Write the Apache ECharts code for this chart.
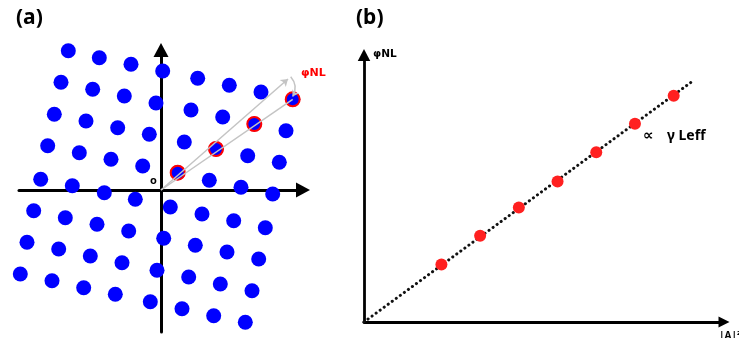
<!DOCTYPE html>
<html>
<head>
<meta charset="utf-8">
<script src="https://cdn.jsdelivr.net/npm/echarts@6/dist/echarts.min.js"></script>
<style>html,body{margin:0;padding:0;background:#fff;}#c{width:739px;height:338px;}</style>
</head>
<body>
<div id="c"></div>
<script>
// ---- Panel (a): lattice points (offsets from the axis crossing)
var latticeX = [
  -92.7,-61.7,-30,1.7,36.7,68.3,100,131.7,
  -100,-68.3,-36.7,-5,30,61.7,93.3,125,
  -106.7,-75,-43.3,-11.7,23.3,55,86.7,118.3,
  -113.3,-81.7,-50,-18.3,16.7,48.3,80,111.7,
  -120.3,-88.7,-56.7,-25.7,9.3,41,72.7,104.3,
  -127.3,-95.7,-64,-32.3,2.7,34.3,66,97.7,
  -134,-102.3,-70.7,-39,-4,27.7,59.3,91,
  -140.7,-109,-77.3,-45.7,-10.7,21,52.7,84.3
];
var latticeY = [
  139.3,132.3,125.7,119,111.7,104.7,98,90.7,
  107.7,100.7,94,87,80,73,66,59.3,
  75.7,69,62.3,55.7,48,41,34.3,27.7,
  44.3,37.3,30.7,24,17.3,9.7,2.7,-4,
  10.7,4.3,-2.7,-9.3,-17,-24,-30.7,-37.7,
  -20.7,-27.7,-34.3,-41,-48.3,-55.3,-62,-69,
  -52.3,-59,-66,-72.7,-80.3,-87,-94,-100.7,
  -84,-90.7,-97.7,-104.3,-111.7,-118.7,-125.7,-132.3
];
var ringX = [16.7, 55, 93.3, 131.7];
var ringY = [17.3, 41, 66, 90.7];
var upperArrowEnd = [127, 111];
var lowerLineEnd = [131.7, 90.7];
var arcStart = [129.7, 113.3];
var arcEnd = [131.7, 93.5];

// ---- Panel (b): phi_NL vs |A|^2
var ampSq = [2, 3, 4, 5, 6, 7, 8];
var phiNL = [2.05, 3.07, 4.07, 5.0, 6.04, 7.05, 8.05];
var fitX = [0, 8.47];
var fitY = [0, 8.55];

var latticeData = latticeX.map(function (x, i) { return [x, latticeY[i]]; });
var ringData = ringX.map(function (x, i) { return [x, ringY[i]]; });
var pointData = ampSq.map(function (x, i) { return [x, phiNL[i]]; });
var fitData = fitX.map(function (x, i) { return [x, fitY[i]]; });

var chart = echarts.init(document.getElementById('c'), null, {renderer: 'canvas'});
var FONT = "'Noto Sans', 'DejaVu Sans', sans-serif";
var PHI_FONT = "'DejaVu Sans', sans-serif";
function axisStyle(width, size) {
  return {
    show: true, onZero: true,
    symbol: ['none', 'triangle'], symbolSize: size,
    lineStyle: {color: '#000', width: width}
  };
}
var hidden = {axisTick: {show: false}, axisLabel: {show: false}, splitLine: {show: false}};

chart.setOption({
  animation: false,
  backgroundColor: '#fff',
  grid: [
    {left: 19, top: 50, width: 284, height: 282},
    {left: 364, top: 55, width: 360, height: 267}
  ],
  xAxis: [
    Object.assign({type: 'value', gridIndex: 0, min: -142, max: 142, axisLine: axisStyle(3, [15, 14])}, hidden),
    Object.assign({type: 'value', gridIndex: 1, min: 0, max: 9.3, axisLine: axisStyle(2.8, [11, 11])}, hidden)
  ],
  yAxis: [
    Object.assign({type: 'value', gridIndex: 0, min: -142, max: 140, axisLine: axisStyle(3, [15, 14])}, hidden),
    Object.assign({type: 'value', gridIndex: 1, min: 0, max: 9.5, axisLine: axisStyle(2.8, [12.5, 12])}, hidden)
  ],
  series: [
    {
      type: 'scatter', xAxisIndex: 0, yAxisIndex: 0, clip: false, z: 2,
      symbolSize: 15, itemStyle: {color: '#0000ff', opacity: 1}, data: latticeData
    },
    {
      type: 'scatter', xAxisIndex: 0, yAxisIndex: 0, clip: false, z: 3,
      symbolSize: 14, itemStyle: {color: '#0000ff', borderColor: '#ff0000', borderWidth: 2, opacity: 1}, data: ringData
    },
    {
      type: 'lines', coordinateSystem: 'cartesian2d', xAxisIndex: 0, yAxisIndex: 0, z: 4,
      symbol: ['none', 'arrow'], symbolSize: 7,
      lineStyle: {color: '#c4c4c4', width: 1.5, opacity: 1},
      data: [
        {coords: [[0, 0], upperArrowEnd]},
        {coords: [[0, 0], lowerLineEnd], symbol: ['none', 'none']},
        {coords: [arcStart, arcEnd], lineStyle: {curveness: 0.35}, symbolSize: 6}
      ]
    },
    {
      type: 'line', xAxisIndex: 1, yAxisIndex: 1, z: 2, showSymbol: false, symbol: 'none',
      lineStyle: {color: '#111', width: 3, type: [0.1, 4.9], cap: 'round'},
      data: fitData
    },
    {
      type: 'scatter', xAxisIndex: 1, yAxisIndex: 1, z: 3, clip: false,
      symbolSize: 12, itemStyle: {color: '#ff2020', opacity: 1}, data: pointData
    }
  ],
  graphic: [
    {type: 'text', left: 16, top: 8, style: {text: '(a)', font: 'bold 21px ' + FONT, fill: '#000'}},
    {type: 'text', left: 356, top: 8, style: {text: '(b)', font: 'bold 21px ' + FONT, fill: '#000'}},
    {type: 'text', left: 150, top: 175, style: {text: 'o', font: 'bold 11px ' + FONT, fill: '#000'}},
    {type: 'text', left: 301, top: 68, style: {text: 'φNL', font: 'bold 11px ' + PHI_FONT, fill: '#ff0000'}},
    {type: 'text', left: 373, top: 49, style: {text: 'φNL', font: 'bold 10.5px ' + PHI_FONT, fill: '#000'}},
    {type: 'text', left: 643, top: 129, style: {text: '∝', font: 'bold 15px ' + PHI_FONT, fill: '#000'}},
    {type: 'text', left: 667, top: 129, style: {text: 'γ Leff', font: 'bold 14px ' + FONT, fill: '#000'}},
    {type: 'text', left: 719, top: 331, style: {text: '|A|²', font: 'bold 10px ' + FONT, fill: '#000'}}
  ]
});
</script>
</body>
</html>
